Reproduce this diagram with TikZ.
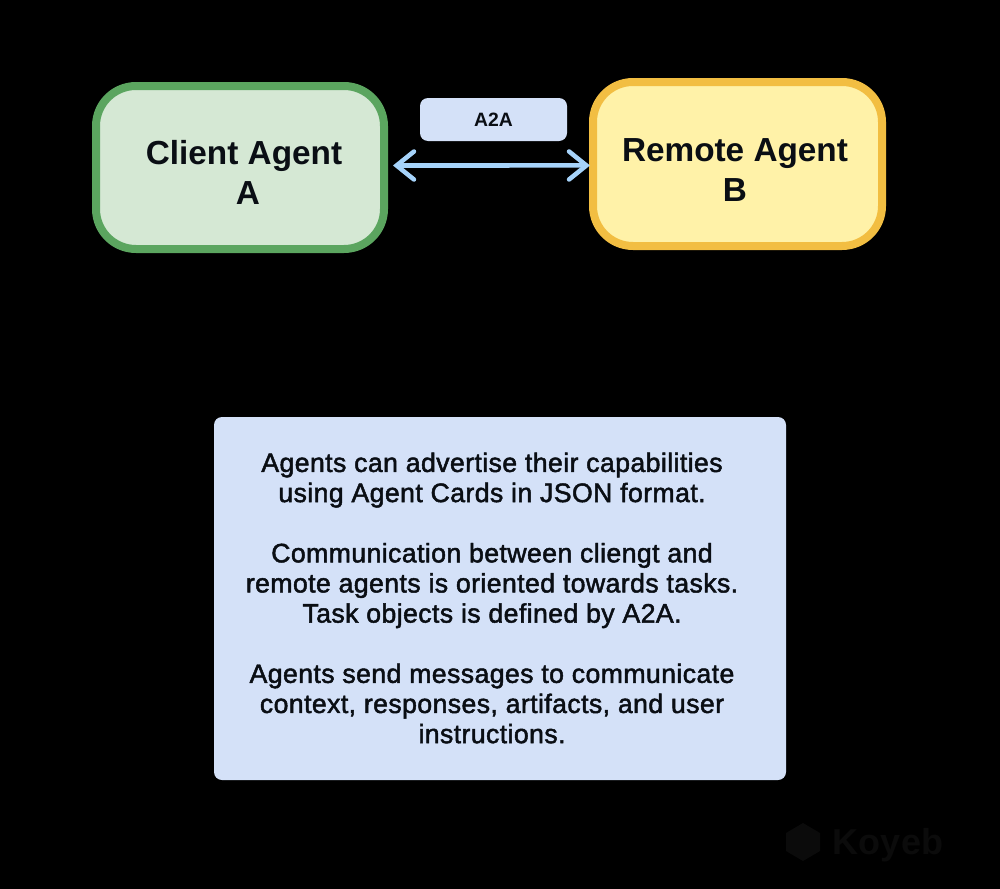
\documentclass[tikz,border=0pt]{standalone}
\usepackage{fontspec}
\usetikzlibrary{arrows.meta}
\setmainfont{Liberation Sans}
\newfontfamily\mediumfont{Liberation Sans}[FakeBold=1.8,LetterSpace=1.5]
\definecolor{greenfill}{HTML}{D5E8D4}
\definecolor{greenline}{HTML}{5BA55F}
\definecolor{yellowfill}{HTML}{FFF2A8}
\definecolor{yellowline}{HTML}{F2BE42}
\definecolor{bluefill}{HTML}{D4E1F8}
\definecolor{arrowblue}{HTML}{A6D3FA}
\definecolor{inkblack}{HTML}{0A0E14}
\definecolor{logoink}{HTML}{0B0B0B}
\tikzset{
  x=0.75pt,y=-0.75pt,
  agentbox/.style={draw,line width=6pt,rounded corners=30pt,align=center,inner sep=0pt,outer sep=0pt,text=inkblack,font=\fontsize{25}{30}\selectfont\bfseries},
  infobox/.style={fill=bluefill,rounded corners=6pt,inner sep=0pt,outer sep=0pt,text=inkblack},
  link/.style={draw=arrowblue,line width=3.4pt,{Straight Barb[length=13pt,width=21pt,line cap=round]}-{Straight Barb[length=13pt,width=21pt,line cap=round]}}
}
\begin{document}
\begin{tikzpicture}
\useasboundingbox[fill=black] (0,0) rectangle (1000,889);
\node[agentbox,fill=greenfill,draw=greenline,minimum width=216pt,minimum height=122.25pt] (client) at (240,167.5)
  {\rule{0pt}{25.7pt}\hspace*{6pt}Client Agent\\\hspace*{12pt}A};
\node[agentbox,fill=yellowfill,draw=yellowline,minimum width=216.75pt,minimum height=123pt] (remote) at (737.5,164)
  {\rule{0pt}{25.7pt}Remote Agent\hspace*{3.75pt}\\B\hspace*{3.75pt}};
\node[infobox,minimum width=110.25pt,minimum height=32.25pt,font=\fontsize{14.5}{16}\selectfont\bfseries] (proto) at (493.5,119.5) {A2A};
\node[infobox,minimum width=429pt,minimum height=272.25pt,font=\mediumfont\fontsize{20}{22.6}\selectfont] (info) at (500,598.5)
  {\begin{tabular}{@{}c@{\hspace{12pt}}}
   \rule{0pt}{20.3pt}Agents can advertise their capabilities\\
   using Agent Cards in JSON format.\\
   \\
   Communication between cliengt and\\
   remote agents is oriented towards tasks.\\
   Task objects is defined by A2A.\\
   \\
   Agents send messages to communicate\\
   context, responses, artifacts, and user\\
   instructions.
   \end{tabular}};
\coordinate (linkleft) at ([xshift=6.75pt,yshift=1.5pt]client.east);
\coordinate (linkright) at ([xshift=-2.25pt,yshift=-1.1pt]remote.west);
\draw[link] (linkleft) -- (linkright);
\node[font=\fontsize{27}{30}\selectfont\bfseries,text=logoink,inner sep=0pt] (logo) at (888,845) {Koyeb};
\fill[logoink] (803,823) -- (820,833) -- (820,851) -- (803,861) -- (786,851) -- (786,833) -- cycle;
\end{tikzpicture}
\end{document}
